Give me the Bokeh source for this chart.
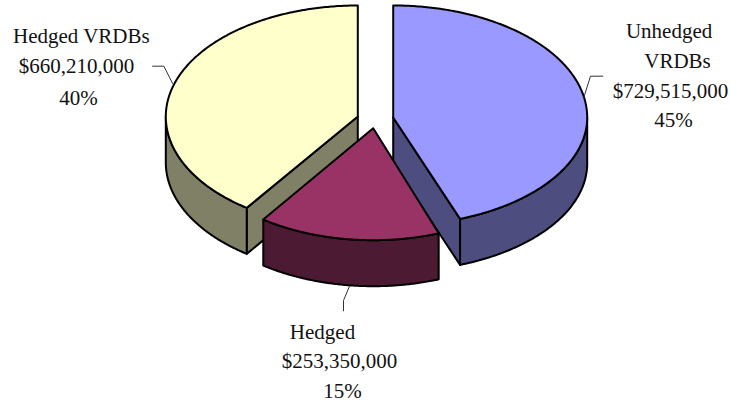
import numpy as np
from bokeh.plotting import figure
from bokeh.core.properties import value
from bokeh.embed import file_html
from bokeh.resources import INLINE

categories = ["Unhedged VRDBs", "Hedged", "Hedged VRDBs"]
amounts = [729515000, 253350000, 660210000]
percent_labels = ["45%", "15%", "40%"]
top_colors = ["#9999FF", "#993366", "#FFFFCC"]
wall_colors = ["#4D4D80", "#4D1A33", "#808066"]

# exploded slice apex positions and ellipse semi-axes, in page pixels
apex_x = [392.7, 372.7, 357.3]
apex_y = [117, 127.7, 116]
semi_a = [194, 190, 192]
semi_b_upper = [112, 112, 111]
semi_b_lower = [108, 112, 112]
depth = 46

label_lines = ["Unhedged", "VRDBs", "$729,515,000", "45%",
               "Hedged", "$253,350,000", "15%",
               "Hedged VRDBs", "$660,210,000", "40%"]
label_x = [668.6, 677, 670, 673, 322, 339, 342, 81, 76, 78]
label_y = [30, 60, 90, 119, 331, 360, 390, 35, 65, 97]
leader_x = [[602.7, 590, 583.3], [349.3, 343, 343], [151.7, 163.3, 172.3]]
leader_y = [[75.7, 75.7, 97], [285, 300, 310.7], [65.7, 65.7, 83.3]]

W, H = 730, 402
p = figure(width=W, height=H, x_range=(0, W), y_range=(H, 0),
           output_backend="svg", toolbar_location=None, min_border=0,
           outline_line_color=None, background_fill_color="white")
p.axis.visible = False
p.grid.visible = False

edges = np.concatenate([[0], np.cumsum(amounts)]) / np.sum(amounts) * 2 * np.pi


def arc(i, t0, t1, n=120):
    t = np.linspace(t0, t1, n)
    b = np.where(np.cos(t) >= 0, semi_b_upper[i], semi_b_lower[i])
    return apex_x[i] + semi_a[i] * np.sin(t), apex_y[i] - b * np.cos(t)


def poly(xs, ys, fill):
    p.patch(list(xs), list(ys), fill_color=fill, line_color="black",
            line_width=2, line_join="round")


# Draw far slices first, the front slice last
for i in [2, 0, 1]:
    t0, t1 = edges[i], edges[i + 1]
    # flat cut faces, below the top
    for t in (t0, t1):
        if (i == 0 and t == t1) or (i == 2 and t == t0):
            ex, ey = arc(i, t, t, 1)
            poly([apex_x[i], ex[0], ex[0], apex_x[i]],
                 [apex_y[i], ey[0], ey[0] + depth, apex_y[i] + depth],
                 wall_colors[i])
    # curved outer wall: the part of the rim facing the viewer
    v0, v1 = max(t0, np.pi / 2), min(t1, 3 * np.pi / 2)
    wx, wy = arc(i, v0, v1)
    poly(np.r_[wx, wx[::-1]], np.r_[wy, wy[::-1] + depth], wall_colors[i])
    # top face
    ax, ay = arc(i, t0, t1, 240)
    poly(np.r_[apex_x[i], ax], np.r_[apex_y[i], ay], top_colors[i])

p.multi_line(leader_x, leader_y, line_color="#333333", line_width=1)
p.text(label_x, label_y, text=label_lines, text_font=value("Liberation Serif"),
       text_font_size="21px", text_align="center", text_baseline="middle",
       text_color="#111111")

open("out.html", "w").write(file_html(p, INLINE))
